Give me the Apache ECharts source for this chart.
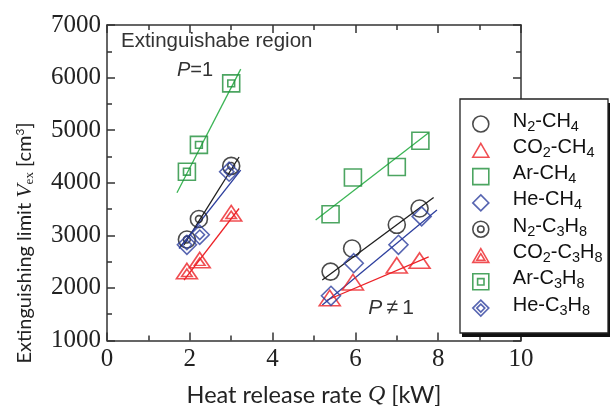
<!DOCTYPE html>
<html><head><meta charset="utf-8">
<script src="https://cdn.jsdelivr.net/npm/echarts@6/dist/echarts.min.js"></script>
<style>html,body{margin:0;padding:0;background:#fff}#c{width:613px;height:406px}</style>
</head><body><div id="c"></div>
<script>
// ---- data ----
const xRange = [0, 10];
const yRange = [1000, 7000];
const seriesNames = ['N2-CH4','CO2-CH4','Ar-CH4','He-CH4','N2-C3H8','CO2-C3H8','Ar-C3H8','He-C3H8'];

// P != 1 (CH4 fuel, single markers)
const n2CH4  = [[5.40,2310],[5.92,2750],[7.00,3200],[7.55,3510]];
const co2CH4 = [[5.38,1810],[5.94,2110],[7.00,2430],[7.55,2520]];
const arCH4  = [[5.40,3400],[5.94,4100],[7.00,4300],[7.57,4800]];
const heCH4  = [[5.41,1850],[5.96,2470],[7.04,2820],[7.60,3360]];
// P = 1 (C3H8 fuel, double markers)
const n2C3H8  = [[1.93,2920],[2.22,3310],[3.00,4320]];
const co2C3H8 = [[1.93,2320],[2.24,2530],[3.00,3420]];
const arC3H8  = [[1.93,4210],[2.22,4720],[3.00,5890]];
const heC3H8  = [[1.93,2820],[2.24,3010],[2.95,4210]];

// fitted lines (end points)
const fitN2P1   = [[1.86,2820],[3.19,4490]];
const fitCO2P1  = [[1.86,2150],[3.19,3510]];
const fitArP1   = [[1.69,3810],[3.23,6160]];
const fitHeP1   = [[1.74,2750],[3.23,4240]];
const fitN2Pn   = [[5.20,2150],[7.89,3720]];
const fitCO2Pn  = [[5.32,1770],[7.77,2590]];
const fitArPn   = [[5.04,3290],[7.77,4950]];
const fitHePn   = [[5.20,1675],[7.97,3480]];

// ---- styles ----
const SERIF = '"Liberation Serif", "Times New Roman", serif';
const SANS = '"Liberation Sans", Arial, sans-serif';
const TITLE = 'Lato, sans-serif';
const C = {black:'#1e1e1e', red:'#ec2227', green:'#1f8f3a', greenLine:'#3cb556', blue:'#2d3f9e'};
const P = {
  circle:  'path://M0,-10A10,10 0 1,1 0,10A10,10 0 1,1 0,-10Z',
  circle2: 'path://M0,-10A10,10 0 1,1 0,10A10,10 0 1,1 0,-10ZM0,-4A4,4 0 1,1 0,4A4,4 0 1,1 0,-4Z',
  tri:     'path://M0,-10L11,9L-11,9Z',
  tri2:    'path://M0,-10L11,9L-11,9ZM0,-3L5.5,6L-5.5,6Z',
  sq:      'path://M-10,-10L10,-10L10,10L-10,10Z',
  sq2:     'path://M-10,-10L10,-10L10,10L-10,10ZM-4,-4L4,-4L4,4L-4,4Z',
  dia:     'path://M0,-10L10,0L0,10L-10,0Z',
  dia2:    'path://M0,-10L10,0L0,10L-10,0ZM0,-5L5,0L0,5L-5,0Z'
};
const legendRich = {
  'N2-CH4':   '{n|N}{s|2}{n|-CH}{s|4}',
  'CO2-CH4':  '{n|CO}{s|2}{n|-CH}{s|4}',
  'Ar-CH4':   '{n|Ar-CH}{s|4}',
  'He-CH4':   '{n|He-CH}{s|4}',
  'N2-C3H8':  '{n|N}{s|2}{n|-C}{s|3}{n|H}{s|8}',
  'CO2-C3H8': '{n|CO}{s|2}{n|-C}{s|3}{n|H}{s|8}',
  'Ar-C3H8':  '{n|Ar-C}{s|3}{n|H}{s|8}',
  'He-C3H8':  '{n|He-C}{s|3}{n|H}{s|8}'
};

function scatter(name, data, sym, size, color) {
  return {name, type:'scatter', data, symbol:sym, symbolSize:size, symbolKeepAspect:true, z:5,
    itemStyle:{color:'rgba(255,255,255,0)', borderColor:color, borderWidth:1.6}};
}
function fit(data, color) {
  return {name:'fit', type:'line', data, symbol:'none', silent:true, z:3,
    lineStyle:{color, width:1.3}};
}

const axisLineStyle = {color:'#333', width:1.5};
function common(labels) {
  return {
    axisLine:{show:true, onZero:false, lineStyle:axisLineStyle},
    axisTick:{show:true, inside:true, length:8, lineStyle:axisLineStyle},
    minorTick:{show:true, splitNumber:2, length:5, lineStyle:axisLineStyle},
    splitLine:{show:false},
    axisLabel:{show:labels, fontFamily:SERIF, fontSize:25, color:'#222', margin:6,
      showMinLabel:true, showMaxLabel:true, formatter: v => String(v)}
  };
}
function xAx(pos, labels) {
  return Object.assign({type:'value', position:pos, min:xRange[0], max:xRange[1], interval:2}, common(labels));
}
function yAx(pos, labels) {
  return Object.assign({type:'value', position:pos, min:yRange[0], max:yRange[1], interval:1000}, common(labels));
}

// legend frame (decoration)
const LB = {x:460, y:99, w:148, h:234};

const chart = echarts.init(document.getElementById('c'), null, {renderer:'canvas'});
chart.setOption({
  animation:false,
  backgroundColor:'#fff',
  textStyle:{fontFamily:SANS},
  grid:{left:107, right:92, top:25, bottom:65.5, containLabel:false},
  xAxis:[xAx('bottom', true), xAx('top', false)],
  yAxis:[yAx('left', true), yAx('right', false)],
  legend:{
    data:seriesNames, orient:'vertical', left:460, top:99, z:10,
    padding:[12,6,4,12], itemGap:0.3, itemWidth:16, itemHeight:16,
    backgroundColor:'transparent', borderWidth:0,
    itemStyle:{borderWidth:1.6},
    formatter: n => legendRich[n],
    textStyle:{fontFamily:SANS, fontSize:20, color:'#111', padding:[0,0,0,19],
      rich:{
        n:{fontFamily:SANS, fontSize:20, color:'#111', lineHeight:20, padding:[0,0,6,0]},
        s:{fontFamily:SANS, fontSize:14.5, color:'#111', lineHeight:15, verticalAlign:'bottom'}
      }}
  },
  graphic:[
    {type:'rect', z:6, silent:true, shape:{x:LB.x+2, y:LB.y+4, width:LB.w, height:LB.h}, style:{fill:'#111'}},
    {type:'rect', z:7, silent:true, shape:{x:LB.x, y:LB.y, width:LB.w, height:LB.h}, style:{fill:'#fff', stroke:'#222', lineWidth:1.3}},
    {type:'text', left:121, top:31, style:{text:'Extinguishabe region', font:'20.5px ' + SANS, fill:'#333'}},
    {type:'text', x:195, y:70, style:{text:'{i|P}=1', align:'center', verticalAlign:'middle', font:'20px ' + SANS, fill:'#333',
      rich:{i:{fontStyle:'italic', fontFamily:SANS, fontSize:20, fill:'#333'}}}},
    {type:'text', x:391, y:308, style:{text:'{i|P}\u2009≠\u20091', align:'center', verticalAlign:'middle', font:'21px ' + SANS, fill:'#333',
      rich:{i:{fontStyle:'italic', fontFamily:SANS, fontSize:21, fill:'#333'}}}},
    {type:'text', x:314, y:395, style:{text:'Heat release rate {i|Q} [kW]', align:'center', verticalAlign:'middle', font:'23.5px ' + TITLE, fill:'#222',
      rich:{i:{fontStyle:'italic', fontFamily:SERIF, fontSize:24, fill:'#222'}}}},
    {type:'text', x:25, y:243, rotation:Math.PI/2, style:{text:'Extinguishing limit {i|V}{sb|ex} [cm{sp|3}]', align:'center', verticalAlign:'middle', font:'20px ' + TITLE, fill:'#222',
      rich:{
        i:{fontStyle:'italic', fontFamily:SERIF, fontSize:22, fill:'#222'},
        sb:{fontFamily:SERIF, fontSize:13, fill:'#222', verticalAlign:'bottom', lineHeight:13},
        sp:{fontFamily:TITLE, fontSize:12, fill:'#222', verticalAlign:'top', lineHeight:12}
      }}}
  ],
  series:[
    fit(fitN2P1, C.black), fit(fitCO2P1, C.red), fit(fitArP1, C.greenLine), fit(fitHeP1, C.blue),
    fit(fitN2Pn, C.black), fit(fitCO2Pn, C.red), fit(fitArPn, C.greenLine), fit(fitHePn, C.blue),
    scatter(seriesNames[0], n2CH4, P.circle, [17,17], C.black),
    scatter(seriesNames[1], co2CH4, P.tri, [21,18], C.red),
    scatter(seriesNames[2], arCH4, P.sq, [17,17], C.green),
    scatter(seriesNames[3], heCH4, P.dia, [19,19], C.blue),
    scatter(seriesNames[4], n2C3H8, P.circle2, [17,17], C.black),
    scatter(seriesNames[5], co2C3H8, P.tri2, [21,18], C.red),
    scatter(seriesNames[6], arC3H8, P.sq2, [17,17], C.green),
    scatter(seriesNames[7], heC3H8, P.dia2, [19,19], C.blue)
  ]
});
</script></body></html>
